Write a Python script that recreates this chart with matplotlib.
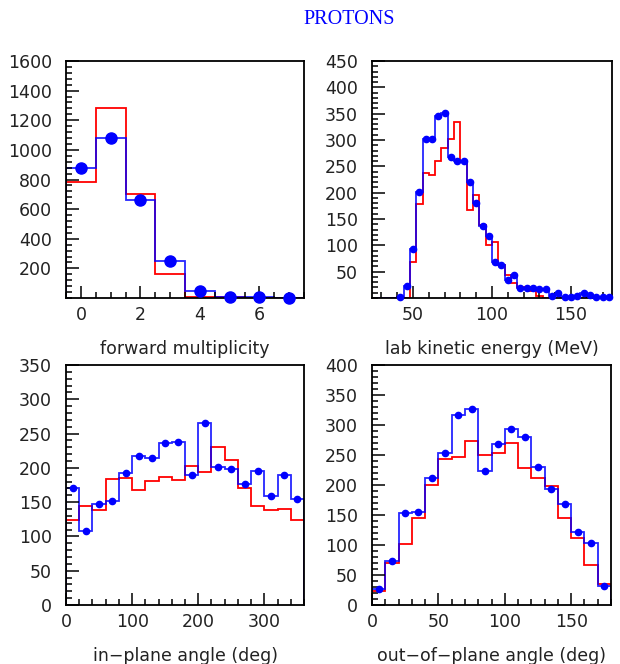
import numpy as np
import matplotlib.pyplot as plt
from matplotlib.ticker import MultipleLocator

# --- donnees ---
mult_edges = np.arange(-0.5, 8.0, 1.0)
mult_data = [880, 1080, 660, 250, 50, 10, 5, 3]
mult_sim = [780, 1280, 700, 165, 10, 5, 0, 0]

ekin_edges = np.arange(24, 177, 4)
ekin_data = [0, 0, 0, 0, 1, 23, 94, 202, 302, 302, 345, 351, 268, 260, 260,
             221, 180, 137, 117, 68, 62, 35, 44, 19, 19, 19, 17, 17, 4, 10,
             1, 1, 3, 10, 6, 1, 2, 2]
ekin_sim = [0, 0, 0, 0, 0, 0, 68, 178, 238, 234, 260, 284, 302, 335, 260,
            168, 196, 138, 100, 106, 62, 44, 28, 20, 20, 14, 3, 0, 0, 0,
            0, 0, 0, 0, 0, 0, 0, 0]

inpl_edges = np.arange(0, 361, 20)
inpl_data = [170, 108, 147, 152, 192, 217, 214, 236, 238, 189, 265, 201,
             199, 177, 196, 159, 190, 154]
inpl_sim = [124, 145, 139, 184, 185, 167, 181, 186, 182, 202, 194, 230,
            212, 171, 145, 139, 140, 124]

outpl_edges = np.arange(0, 181, 10)
outpl_data = [26, 74, 153, 155, 212, 254, 317, 326, 223, 268, 293, 280,
              230, 193, 168, 121, 103, 32]
outpl_sim = [24, 70, 102, 145, 200, 244, 246, 273, 250, 254, 270, 228,
             211, 199, 145, 112, 66, 35]

panels = [
    (mult_edges, mult_data, mult_sim, 'forward multiplicity',
     (-0.5, 7.5), (0, 1600), 2, 0.5, 200, 40, 8, False),
    (ekin_edges, ekin_data, ekin_sim, 'lab kinetic energy (MeV)',
     (24, 176), (0, 450), 50, 10, 50, 10, 4.5, False),
    (inpl_edges, inpl_data, inpl_sim, 'in\u2212plane angle (deg)',
     (0, 360), (0, 350), 100, 20, 50, 10, 4.5, True),
    (outpl_edges, outpl_data, outpl_sim, 'out\u2212of\u2212plane angle (deg)',
     (0, 180), (0, 400), 50, 10, 50, 10, 4.5, True),
]

positions = [[0.1065, 0.5512, 0.3839, 0.3569],
             [0.6, 0.5512, 0.3871, 0.3569],
             [0.1065, 0.0889, 0.3839, 0.3614],
             [0.6, 0.0889, 0.3855, 0.3614]]

plt.rcParams['font.family'] = ['DejaVu Sans']
fig = plt.figure(figsize=(6.2, 6.64), dpi=100)

for pos, p in zip(positions, panels):
    edges, data, sim, label, xl, yl, xmaj, xmin, ymaj, ymin, ms, zero = p
    ax = fig.add_axes(pos)
    centres = (edges[:-1] + edges[1:]) / 2
    ax.stairs(sim, edges, color='red', lw=1.3, baseline=0)
    ax.stairs(data, edges, color='blue', lw=1.3, baseline=0, alpha=0.85)
    d = np.array(data, dtype=float)
    keep = d > 0
    ax.plot(centres[keep], d[keep], 'o', color='blue', ms=ms, mec='blue',
            zorder=5, clip_on=False)
    ax.set_xlim(*xl)
    ax.set_ylim(*yl)
    ax.xaxis.set_major_locator(MultipleLocator(xmaj))
    ax.xaxis.set_minor_locator(MultipleLocator(xmin))
    ax.yaxis.set_major_locator(MultipleLocator(ymaj))
    ax.yaxis.set_minor_locator(MultipleLocator(ymin))
    ax.tick_params(which='both', direction='in', top=False, right=False,
                   labelsize=12.5, labelcolor='#222', width=1.1)
    ax.tick_params(which='major', length=9)
    ax.tick_params(which='minor', length=4.5)
    ax.tick_params(axis='y', which='major', pad=10)
    ax.tick_params(axis='x', which='major', pad=6)
    if not zero:
        ticks = np.arange(ymaj, yl[1] + 1, ymaj)
        ax.set_yticks(ticks)
    for s in ax.spines.values():
        s.set_linewidth(1.3)
    ax.set_xlabel(label, fontsize=12.5, color='#222', labelpad=11)

fig.text(0.5635, 0.971, 'PROTONS', color='blue', ha='center', va='center',
         fontsize=14.5, family='Liberation Serif')

plt.savefig('out.png', dpi=100)
